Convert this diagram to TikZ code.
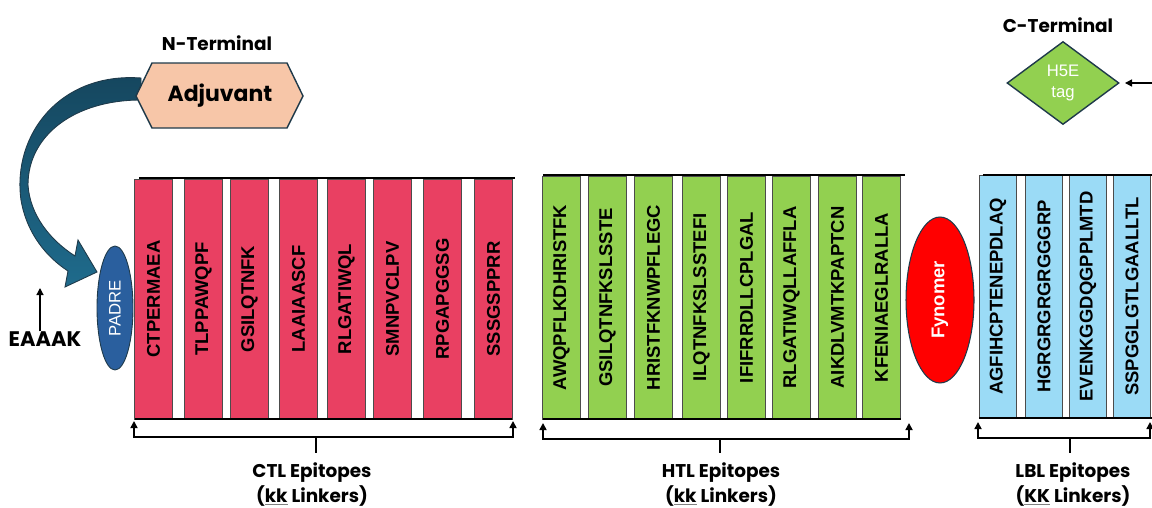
\documentclass[tikz,border=0pt]{standalone}
\usepackage{fontspec}
\setmainfont{Liberation Sans}
\newfontfamily\headfont{Poppins}
\usetikzlibrary{shapes.geometric,arrows.meta}
\definecolor{ctlc}{HTML}{E94062}
\definecolor{htlc}{HTML}{92D050}
\definecolor{lblc}{HTML}{9BDBF6}
\definecolor{padrec}{HTML}{2A5F9E}
\definecolor{edgec}{HTML}{1F3A4A}
\definecolor{peachc}{HTML}{F7C6A8}
\definecolor{arrowA}{HTML}{15465E}
\definecolor{arrowB}{HTML}{1F6B8C}
\newcommand\ulk[1]{{\color{gray}\underline{\color{black}#1}}}
\begin{document}
\begin{tikzpicture}[x=0.02cm,y=-0.02cm,
  seqbox/.style={draw=gray!60!black, line width=0.4pt, rotate=90, minimum height=0.75cm,
    inner sep=0pt, font=\fontsize{10.5}{12}\selectfont\bfseries},
  headtxt/.style={font=\headfont\bfseries\fontsize{10.5}{14}\selectfont, align=center},
  brk/.style={line width=0.9pt, {Triangle[length=4pt,width=4pt]}-{Triangle[length=4pt,width=4pt]}},
  rule/.style={line width=0.8pt},
]
\useasboundingbox (0,0) rectangle (1152,507);

% curved block arrow (Adjuvant -> PADRE)
\path[top color=arrowA, bottom color=arrowB, draw=edgec, line width=0.5pt]
  (141,78) .. controls (60,72) and (12,135) .. (21,200)
  .. controls (27,235) and (48,258) .. (68,271)
  -- (65,287) -- (97,272) -- (78,240) -- (75,256)
  .. controls (50,240) and (30,215) .. (28,185)
  .. controls (28,135) and (75,100) .. (141,100) -- cycle;

% Adjuvant hexagon
\filldraw[fill=peachc, draw=edgec, line width=0.8pt]
  (136,96) -- (152,63) -- (287,63) -- (303,96) -- (287,128) -- (152,128) -- cycle;
\node[headtxt, font=\headfont\bfseries\fontsize{12.5}{14}\selectfont] (adj) at (220,96) {Adjuvant};
\node[headtxt] (nterm) at (217,43) {N-Terminal};

% PADRE
\node[ellipse, draw=edgec, fill=padrec, rotate=90, minimum width=2.48cm, minimum height=0.72cm,
  inner sep=0pt, text=white, font=\fontsize{9.5}{11}\selectfont, line width=0.5pt] (padre) at (115,308) {PADRE};

% EAAAK
\node[headtxt, inner sep=0pt, font=\headfont\bfseries\fontsize{12}{14}\selectfont] (eaaak) at (45,339) {EAAAK};
\coordinate (eaaakTop) at (40,288);
\draw[line width=0.7pt, -{Triangle[length=4pt,width=4pt]}] (eaaak.north -| eaaakTop) -- (eaaakTop);

% CTL epitopes
\foreach \xl/\s [count=\i] in {135/CTPERMAEA,185/TLPPAWQPF,231/GSILQTNFK,280/LAAIAASCF,328/RLGATIWQL,374/SMNPVCLPV,424/RPGAPGGSG,475/SSSGSPPRR}
  \node[seqbox, fill=ctlc, minimum width=4.8cm] (ctl\i) at (\xl+18.5,299) {\s};
\draw[rule] (139,178) -- (515,178);
\draw[rule] (135,419) -- (512,419);

% HTL epitopes
\foreach \xl/\s [count=\i] in {543/AWQPFLKDHRISTFK,589/GSILQTNFKSLSSTE,635/HRISTFKNWPFLEGC,683/ILQTNFKSLSSTEFI,728/IFIFRRDLLCPLGAL,773/RLGATIWQLLAFFLA,819/AIKDLVMTKPAPTCN,863/KFENIAEGLRALLA}
  \node[seqbox, fill=htlc, minimum width=4.86cm] (htl\i) at (\xl+18.5,297.5) {\s};
\draw[rule] (543,175) -- (905,175);
\draw[rule] (543,419) -- (901,419);

% Fynomer
\node[ellipse, draw=edgec, fill=red, rotate=90, minimum width=3.32cm, minimum height=1.36cm,
  inner sep=0pt, text=white, font=\bfseries\fontsize{10.5}{12}\selectfont, line width=0.6pt] (fyn) at (940,300) {Fynomer};

% LBL epitopes
\foreach \xl/\s [count=\i] in {979/AGFIHCPTENEPDLAQ,1025/HGRGRGRGRGGGRP,1069/EVENKGGDQGPPLMTD,1113/SSPGGLGTLGAALLTL}
  \node[seqbox, fill=lblc, minimum width=4.86cm] (lbl\i) at (\xl+19,296.5) {\s};
\draw[rule] (983,175) -- (1152,175);
\draw[rule] (979,418) -- (1152,418);

% C-terminal tag
\node[headtxt] (cterm) at (1058,25) {C-Terminal};
\node[diamond, aspect=1.35, draw=edgec, fill=htlc, minimum width=2.24cm, minimum height=1.66cm,
  inner sep=0pt, text=white, align=center, font=\fontsize{9.5}{11.5}\selectfont, line width=0.8pt] (tag) at (1063,83) {H5E\\tag};
\coordinate (tagIn) at (1152,83);
\draw[line width=0.8pt, -{Triangle[length=4pt,width=4pt]}, shorten >=3pt] (tagIn) -- (tag.east);

% brackets
\coordinate (ctlL) at (134,421); \coordinate (ctlR) at (513,421);
\draw[brk] (ctlL) -- ++(0,16) -| (ctlR);
\coordinate (ctlS) at (316,437);
\draw[line width=0.9pt] (ctlS) -- ++(0,16);
\node[headtxt] (ctllab) at (312,484.5) {CTL Epitopes\\(\ulk{kk} Linkers)};

\coordinate (htlL) at (543,423); \coordinate (htlR) at (909,423);
\draw[brk] (htlL) -- ++(0,16) -| (htlR);
\coordinate (htlS) at (720,439);
\draw[line width=0.9pt] (htlS) -- ++(0,14);
\node[headtxt] (htllab) at (721,484.5) {HTL Epitopes\\(\ulk{kk} Linkers)};

\coordinate (lblL) at (978,422); \coordinate (lblR) at (1150,422);
\draw[brk] (lblL) -- ++(0,16) -| (lblR);
\coordinate (lblS) at (1070,438);
\draw[line width=0.9pt] (lblS) -- ++(0,15);
\node[headtxt] (lbllab) at (1073,484.5) {LBL Epitopes\\(\ulk{KK} Linkers)};
\end{tikzpicture}
\end{document}
